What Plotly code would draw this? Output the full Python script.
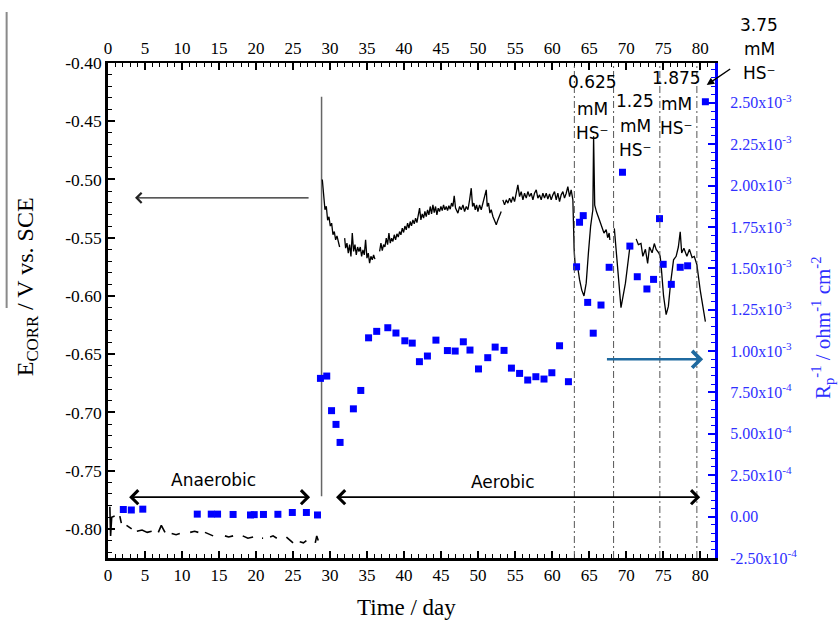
import plotly.graph_objects as go

# ---------------- data ----------------
# Anaerobic corrosion potential record (fragmented logger trace, V vs. SCE)
anaer_day = [0.25, 0.35, 0.5, 0.9, None, 1.6, 1.8, None, 2.5, 3.2, None,
             3.9, 4.6, 5.3, 5.9, None, 6.8, 7.2, 7.7, None, 8.6, 9.2, 9.7, None,
             11.1, 11.7, 12.2, None, 13.1, 13.7, 14.2, None, 15.8, 16.3, 16.9, None,
             18.2, 18.9, 19.6, None, 20.8, 20.95, None, 21.9, 22.3, 22.8, None,
             24.1, 24.6, 25.0, None, 25.9, 26.4, 26.8, None, 28.0, 28.2, 28.4]
anaer_ecorr = [-0.781, -0.806, -0.790, -0.789, None, -0.789, -0.795, None, -0.797, -0.800, None,
               -0.802, -0.801, -0.803, -0.802, None, -0.803, -0.797, -0.803, None, -0.804, -0.805, -0.804, None,
               -0.803, -0.802, -0.803, None, -0.803, -0.805, -0.806, None, -0.806, -0.807, -0.806, None,
               -0.806, -0.808, -0.807, None, -0.808, -0.808, None, -0.807, -0.806, -0.808, None,
               -0.807, -0.810, -0.812, None, -0.811, -0.812, -0.810, None, -0.812, -0.806, -0.810]

# Transient at aeration onset
spike_day = [28.85, 28.85]
spike_ecorr = [-0.772, -0.429]

# Aerobic corrosion potential record (V vs. SCE), logged in segments
seg1_day = [28.95, 29.13, 29.31, 29.49, 29.67, 29.85, 30.03, 30.21, 30.39, 30.57, 30.75, 30.93, 31.11, 31.29]
seg1_e = [-0.500, -0.5118, -0.526, -0.523, -0.535, -0.532, -0.540, -0.5375, -0.5475, -0.5447, -0.5518,
          -0.5484, -0.5546, -0.558]

seg2_day = [31.97, 32.1, 32.28, 32.46, 32.64, 32.82, 33.0, 33.18, 33.36, 33.54, 33.72, 33.9, 34.08, 34.26,
            34.44, 34.62, 34.8, 34.98, 35.16, 35.34, 35.52, 35.7, 35.88, 36.06]
seg2_e = [-0.5504, -0.559, -0.5546, -0.5632, -0.556, -0.566, -0.546, -0.5618, -0.556, -0.5647, -0.558,
          -0.5618, -0.558, -0.566, -0.5604, -0.5647, -0.5518, -0.5675, -0.5632, -0.5718, -0.566, -0.569,
          -0.5647, -0.5684]

seg3_day = [36.69, 36.87, 37.05, 37.23, 37.41, 37.59, 37.77, 37.95, 38.13, 38.31, 38.49, 38.67, 38.85, 39.03,
            39.21, 39.39, 39.57, 39.75, 39.93, 40.11, 40.29, 40.47, 40.65, 40.83, 41.0, 41.19, 41.37, 41.55,
            41.73, 41.91, 42.09, 42.27, 42.45, 42.63, 42.81, 42.99, 43.17, 43.35, 43.53, 43.71, 43.89, 44.07,
            44.25, 44.43, 44.61, 44.79, 44.97, 45.15, 45.33, 45.51, 45.69, 45.87, 46.05, 46.23, 46.41, 46.59,
            46.77, 46.95, 47.13, 47.27, 47.5, 47.72, 47.95, 48.17, 48.4, 48.62, 48.85, 49.07, 49.25, 49.43,
            49.61, 49.79, 49.97, 50.2, 50.42, 50.65, 50.87, 51.1, 51.23, 51.41, 51.59, 51.77, 52.0, 52.22,
            52.45, 52.67, 52.9, 53.12]
seg3_e = [-0.5618, -0.5546, -0.561, -0.556, -0.558, -0.5504, -0.556, -0.546, -0.5546, -0.5504, -0.5532,
          -0.5475, -0.5518, -0.5467, -0.5495, -0.5447, -0.5475, -0.5418, -0.5455, -0.540, -0.5432, -0.5375,
          -0.5418, -0.5361, -0.5398, -0.5347, -0.5381, -0.5332, -0.537, -0.5318, -0.5246, -0.5347, -0.5295,
          -0.5332, -0.5275, -0.5318, -0.5261, -0.5304, -0.5232, -0.5295, -0.5218, -0.5284, -0.5232, -0.5304,
          -0.5246, -0.5275, -0.5232, -0.5267, -0.5218, -0.5261, -0.5232, -0.5267, -0.5226, -0.5255, -0.5203,
          -0.5232, -0.5141, -0.5246, -0.5275, -0.5289, -0.5232, -0.526, -0.5218, -0.5275, -0.5232, -0.526,
          -0.5175, -0.5075, -0.5232, -0.5203, -0.526, -0.5218, -0.5275, -0.5218, -0.526, -0.5203, -0.516,
          -0.5089, -0.5232, -0.5203, -0.5289, -0.526, -0.5318, -0.5361, -0.5389, -0.5347, -0.5304, -0.5275]

seg4_day = [53.34, 53.57, 53.8, 54.02, 54.25, 54.47, 54.7, 54.92, 55.15, 55.37, 55.6, 55.82, 56.05, 56.27,
            56.5, 56.72, 56.95, 57.17, 57.4, 57.62, 57.85, 58.07, 58.3, 58.52, 58.75, 58.97, 59.2, 59.42,
            59.65, 59.87, 60.1, 60.32, 60.55, 60.77, 61.0, 61.22, 61.45, 61.67, 61.9, 62.12, 62.35, 62.57,
            62.8, 62.97, 63.15, 63.4, 63.7, 64.0, 64.3, 64.6, 64.9, 65.2, 65.5, 65.6, 65.75, 66.0, 66.4,
            66.7, 67.0, 67.3, 67.5, 67.7, 67.8]
seg4_e = [-0.5175, -0.5218, -0.5175, -0.5203, -0.516, -0.5198, -0.5147, -0.519, -0.5118, -0.5046, -0.5147,
          -0.5104, -0.5175, -0.5118, -0.516, -0.5104, -0.5147, -0.5118, -0.5175, -0.5118, -0.5089, -0.516,
          -0.5132, -0.5175, -0.5118, -0.516, -0.5118, -0.5169, -0.5124, -0.5175, -0.5132, -0.5104, -0.5175,
          -0.5118, -0.519, -0.5132, -0.5104, -0.516, -0.5118, -0.5061, -0.5147, -0.5089, -0.5175,
          -0.560, -0.578, -0.573, -0.586, -0.595, -0.600, -0.589, -0.563, -0.540, -0.526, -0.463, -0.522,
          -0.528, -0.535, -0.540, -0.546, -0.543, -0.550, -0.546, -0.552]

seg5_day = [68.4, 68.8, 69.3, 69.9, 70.3, 70.5]
seg5_e = [-0.542, -0.575, -0.610, -0.589, -0.566, -0.558]

seg6_day = [71.35, 71.65, 72.0, 72.25, 72.6, 72.9, 73.15, 73.5, 73.8, 74.05, 74.4, 74.6, 74.8, 75.05, 75.4,
            75.7, 76.0, 76.4, 76.75, 77.05, 77.3, 77.5, 77.8, 78.2, 78.55, 78.9, 79.2, 79.55, 80.0, 80.45, 80.7]
seg6_e = [-0.551, -0.556, -0.555, -0.566, -0.560, -0.572, -0.558, -0.563, -0.555, -0.560, -0.563, -0.566,
          -0.580, -0.600, -0.616, -0.609, -0.589, -0.569, -0.566, -0.558, -0.545, -0.563, -0.559, -0.566,
          -0.560, -0.567, -0.566, -0.573, -0.595, -0.615, -0.622]

# Inverse polarisation resistance, ohm^-1 cm^-2
rp_day = [2.07, 3.15, 4.7, 12.06, 13.95, 14.8, 16.9, 19.25, 19.75, 21.0, 22.95, 24.9, 26.8, 28.3,
          28.7, 29.55, 30.2, 30.8, 31.35, 33.15, 34.15, 35.2, 36.3, 37.8, 38.9, 40.1, 41.1, 42.07,
          43.15, 44.3, 45.85, 46.9, 48.0, 48.9, 50.05, 51.3, 52.3, 53.5, 54.5, 55.6, 56.7, 57.8,
          58.9, 59.96, 61.0, 62.2, 63.3, 63.7, 64.2, 64.8, 65.55, 66.6, 67.7, 69.5, 70.5, 71.5,
          72.8, 73.7, 74.5, 75.0, 76.1, 77.3, 78.3, 80.7]
rp_inv = [4.3e-5, 4.0e-5, 4.5e-5, 1.5e-5, 1.5e-5, 1.5e-5, 1.3e-5, 1.0e-5, 1.2e-5, 1.3e-5, 1.4e-5, 2.5e-5, 2.5e-5, 1.0e-5,
          8.35e-4, 8.49e-4, 6.40e-4, 5.57e-4, 4.48e-4, 6.51e-4, 7.62e-4, 1.080e-3, 1.119e-3, 1.141e-3, 1.109e-3, 1.062e-3, 1.048e-3, 9.36e-4,
          9.70e-4, 1.066e-3, 1.003e-3, 1.000e-3, 1.056e-3, 1.006e-3, 8.92e-4, 9.60e-4, 1.024e-3, 1.004e-3, 8.97e-4, 8.65e-4, 8.25e-4, 8.45e-4,
          8.31e-4, 8.69e-4, 1.032e-3, 8.15e-4, 1.509e-3, 1.778e-3, 1.818e-3, 1.294e-3, 1.108e-3, 1.278e-3, 1.506e-3, 2.080e-3, 1.634e-3, 1.449e-3,
          1.375e-3, 1.433e-3, 1.800e-3, 1.524e-3, 1.403e-3, 1.506e-3, 1.515e-3, 2.506e-3]

# Days on which sulphide was dosed, with the resulting concentration labels
hs_day = [63.0, 68.3, 74.55, 79.55]
hs_labels = [("0.625", "mM", "HS\u207b"), ("1.25", "mM", "HS\u207b"),
             ("1.875", "mM", "HS\u207b"), ("3.75", "mM", "HS\u207b")]

# Axis ticks
x_ticks = [0, 5, 10, 15, 20, 25, 30, 35, 40, 45, 50, 55, 60, 65, 70, 75, 80]
x_ticktext = [str(v) for v in x_ticks]
e_ticks = [-0.40, -0.45, -0.50, -0.55, -0.60, -0.65, -0.70, -0.75, -0.80]
e_ticktext = ["-0.40", "-0.45", "-0.50", "-0.55", "-0.60", "-0.65", "-0.70", "-0.75", "-0.80"]
rp_ticks = [-2.5e-4, 0.0, 2.5e-4, 5.0e-4, 7.5e-4, 1.0e-3, 1.25e-3, 1.5e-3, 1.75e-3, 2.0e-3, 2.25e-3, 2.5e-3]
rp_ticktext = ["-2.50x10<sup>-4</sup>", "0.00", "2.50x10<sup>-4</sup>", "5.00x10<sup>-4</sup>",
               "7.50x10<sup>-4</sup>", "1.00x10<sup>-3</sup>", "1.25x10<sup>-3</sup>", "1.50x10<sup>-3</sup>",
               "1.75x10<sup>-3</sup>", "2.00x10<sup>-3</sup>", "2.25x10<sup>-3</sup>", "2.50x10<sup>-3</sup>"]

# join logged segments, leaving gaps between them
aer_day, aer_ecorr = [], []
for dseg, eseg in [(seg1_day, seg1_e), (seg2_day, seg2_e), (seg3_day, seg3_e),
                   (seg4_day, seg4_e), (seg5_day, seg5_e), (seg6_day, seg6_e)]:
    if aer_day:
        aer_day.append(None)
        aer_ecorr.append(None)
    aer_day += dseg
    aer_ecorr += eseg

# ---------------- figure ----------------
SERIF = "Liberation Serif"
SANS = "DejaVu Sans"
BLUE = "#0000ff"
TICKBLUE = "#3030ff"

fig = go.Figure()

fig.add_trace(go.Scatter(x=anaer_day, y=anaer_ecorr, mode="lines",
                         line=dict(color="black", width=1.6), connectgaps=False,
                         showlegend=False, hoverinfo="skip"))
fig.add_trace(go.Scatter(x=spike_day, y=spike_ecorr, mode="lines",
                         line=dict(color="#666666", width=1.5), showlegend=False, hoverinfo="skip"))
fig.add_trace(go.Scatter(x=aer_day, y=aer_ecorr, mode="lines",
                         line=dict(color="black", width=1.3), connectgaps=False,
                         showlegend=False))
fig.add_trace(go.Scatter(x=rp_day, y=rp_inv, yaxis="y2", mode="markers",
                         marker=dict(symbol="square", size=7, color=BLUE),
                         showlegend=False))
# carrier for the top day axis
fig.add_trace(go.Scatter(x=[x_ticks[0]], y=[e_ticks[0]], xaxis="x2", yaxis="y", mode="markers",
                         marker=dict(size=1, opacity=0), showlegend=False, hoverinfo="skip"))

# Sulphide dosing markers
for d in hs_day:
    fig.add_shape(type="line", xref="x", yref="paper", x0=d, x1=d, y0=0, y1=1,
                  line=dict(color="#555555", width=1, dash="7px,3px,2px,3px"), layer="above")

annotations = []

# Concentration labels (one annotation per text line)
label_pos = [  # (xref, x, yref, y of each line)
    ("x", 65.45, "y", [-0.4163, -0.4395, -0.4600]),
    ("x", 71.25, "y", [-0.4330, -0.4540, -0.4746]),
    ("x", 76.80, "y", [-0.4133, -0.4356, -0.4562]),
    ("paper", 1.0725, "paper", [1.0758, 1.0273, 0.9788]),
]
for (xr, xv, yr, ys), lines in zip(label_pos, hs_labels):
    for yv, txt in zip(ys, lines):
        annotations.append(dict(xref=xr, yref=yr, x=xv, y=yv, text=txt, showarrow=False,
                                xanchor="center", yanchor="middle",
                                font=dict(family=SANS, size=17, color="black")))

# Arrow from the 3.75 mM label towards the last point
annotations.append(dict(xref="paper", yref="paper", x=0.9863, y=0.9556, ax=25, ay=-17,
                        text="", showarrow=True, arrowhead=2, arrowsize=1, arrowwidth=1.5,
                        arrowcolor="black"))

# Axis pointer arrows
annotations.append(dict(xref="x", yref="y", axref="x", ayref="y", x=3.65, y=-0.5158, ax=27.3, ay=-0.5158,
                        text="", showarrow=True, arrowhead=4, arrowsize=1.5, arrowwidth=1.3,
                        arrowcolor="#222222"))
annotations.append(dict(xref="x", yref="y2", axref="x", ayref="y2", x=80.4, y=0.95e-3, ax=67.2, ay=0.95e-3,
                        text="", showarrow=True, arrowhead=4, arrowsize=1.3, arrowwidth=2.5,
                        arrowcolor="#1f6aa0"))

# Period arrows
annotations.append(dict(xref="x", yref="y", axref="x", ayref="y", x=27.3, y=-0.7728, ax=2.65, ay=-0.7728,
                        text="", showarrow=True, arrowhead=4, startarrowhead=4, arrowside="end+start",
                        arrowsize=1.5, startarrowsize=1.5, arrowwidth=1.8, arrowcolor="black"))
annotations.append(dict(xref="x", yref="y", axref="x", ayref="y", x=80.0, y=-0.7728, ax=30.6, ay=-0.7728,
                        text="", showarrow=True, arrowhead=4, startarrowhead=4, arrowside="end+start",
                        arrowsize=1.5, startarrowsize=1.5, arrowwidth=1.8, arrowcolor="black"))
annotations.append(dict(xref="x", yref="y", x=14.2, y=-0.7576, text="Anaerobic", showarrow=False,
                        font=dict(family=SANS, size=17, color="black")))
annotations.append(dict(xref="x", yref="y", x=53.4, y=-0.7596, text="Aerobic", showarrow=False,
                        font=dict(family=SANS, size=17, color="black")))

# Axis titles
annotations.append(dict(xref="paper", yref="paper", x=-0.133, y=0.5475, textangle=-90,
                        text="E<sub>CORR</sub> / V vs. SCE", showarrow=False,
                        xanchor="center", yanchor="middle",
                        font=dict(family=SERIF, size=24, color="black")))
annotations.append(dict(xref="paper", yref="paper", x=1.1764, y=0.4646, textangle=-90,
                        text="R<sub>p</sub><sup>-1</sup> / ohm<sup>-1</sup> cm<sup>-2</sup>", showarrow=False,
                        xanchor="center", yanchor="middle",
                        font=dict(family=SERIF, size=21, color=TICKBLUE)))
annotations.append(dict(xref="paper", yref="paper", x=0.491, y=-0.099,
                        text="Time / day", showarrow=False, xanchor="center", yanchor="middle",
                        font=dict(family=SERIF, size=23, color="black")))

# Bar over the left title
fig.add_shape(type="line", xref="paper", yref="paper", x0=-0.167, x1=-0.167, y0=0.505, y1=1.103,
              line=dict(color="#8a8a8a", width=2))

xcommon = dict(range=[0, 82], tickmode="array", tickvals=x_ticks, ticktext=x_ticktext,
               ticks="inside", ticklen=7,
               tickwidth=1.5, tickcolor="black", showline=True, linecolor="black",
               showgrid=False, zeroline=False,
               minor=dict(dtick=1, ticks="inside", ticklen=4,
                          tickwidth=1.2, tickcolor="black", showgrid=False),
               tickfont=dict(family=SERIF, size=17, color="black"))

fig.update_layout(
    width=839, height=620,
    margin=dict(l=108, r=124, t=63, b=62),
    paper_bgcolor="white", plot_bgcolor="white",
    font=dict(family=SERIF, size=17, color="black"),
    showlegend=False,
    xaxis=dict(**xcommon, side="bottom", anchor="y", linewidth=2.5),
    xaxis2=dict(**xcommon, side="top", overlaying="x", anchor="y", linewidth=2),
    yaxis=dict(range=[-0.825, -0.40], tickmode="array", tickvals=e_ticks, ticktext=e_ticktext,
               ticks="inside", ticklen=7, tickwidth=1.5, tickcolor="black",
               showline=True, linecolor="black", linewidth=2.5, showgrid=False, zeroline=False,
               minor=dict(dtick=0.01, ticks="inside", ticklen=4,
                          tickwidth=1.2, tickcolor="black", showgrid=False),
               tickfont=dict(family=SERIF, size=17.5, color="black")),
    yaxis2=dict(range=[-2.5e-4, 2.74e-3], overlaying="y", side="right", anchor="x",
                tickmode="array", tickvals=rp_ticks, ticktext=rp_ticktext,
                ticks="inside", ticklen=7, tickwidth=1.5, tickcolor=BLUE,
                showline=True, linecolor=BLUE, linewidth=3, showgrid=False, zeroline=False,
                ticklabelstandoff=9,
                minor=dict(dtick=5e-5, ticks="inside", ticklen=4,
                           tickwidth=1.2, tickcolor=BLUE, showgrid=False),
                tickfont=dict(family=SERIF, size=16, color=TICKBLUE)),
    annotations=annotations,
)

fig.write_html("out.html")
